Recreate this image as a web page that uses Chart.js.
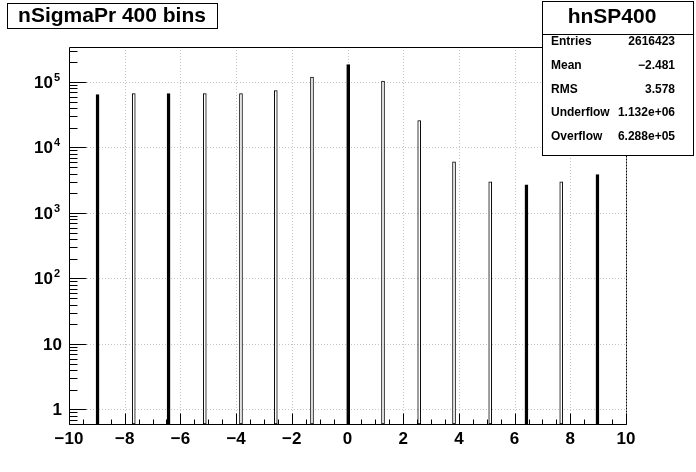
<!DOCTYPE html>
<html>
<head>
<meta charset="utf-8">
<script src="https://cdn.jsdelivr.net/npm/chart.js@4.4.1/dist/chart.umd.min.js"></script>
<style>
  body { margin: 0; background: #fff; }
  canvas { display: block; }
</style>
</head>
<body>
<canvas id="histCanvas" width="696" height="472"></canvas>
<script>
// hnSP400: 400 bins from -10 to 10, only the filled bins are listed (bin centres)
var binCenters = [-8.975, -7.675, -6.425, -5.125, -3.825, -2.575, -1.275, 0.025,
                  1.275, 2.575, 3.825, 5.125, 6.425, 7.675, 8.975];
var binCounts = [64000, 66300, 66300, 66300, 66300, 73700, 119000, 183600,
                 103500, 25700, 6030, 2990, 2690, 2990, 3860];

var yDecades = [1, 10, 100, 1000, 10000, 100000];
var yDecadeBase = ['1', '10', '10', '10', '10', '10'];
var yDecadeExp = ['', '', '2', '3', '4', '5'];

var histTitle = 'nSigmaPr 400 bins';
var statsTitle = 'hnSP400';
var statNames = ['Entries', 'Mean', 'RMS', 'Underflow', 'Overflow'];
var statValues = ['2616423', '\u22122.481', '3.578', '1.132e+06', '6.288e+05'];

var FONT = '"Liberation Sans", Arial, Helvetica, sans-serif';
// bars that come out as solid strokes in the original rendering
var solidBars = [0, 2, 7, 12, 14];

function line(ctx, x1, y1, x2, y2) {
    ctx.beginPath();
    ctx.moveTo(x1, y1);
    ctx.lineTo(x2, y2);
    ctx.stroke();
}

var rootStyle = {
    id: 'rootStyle',
    beforeDatasetsDraw: function(chart) {
        var ctx = chart.ctx, a = chart.chartArea, x = chart.scales.x, y = chart.scales.y;
        ctx.save();
        ctx.strokeStyle = '#c4c4c4';
        ctx.lineWidth = 1;
        ctx.setLineDash([1, 2]);
        for (var v = -8; v <= 8; v += 2) {
            var px = Math.round(x.getPixelForValue(v)) + 0.5;
            line(ctx, px, a.top, px, a.bottom);
        }
        yDecades.forEach(function(d) {
            var py = Math.round(y.getPixelForValue(d)) + 0.5;
            line(ctx, a.left, py, a.right, py);
        });
        ctx.restore();
    },
    afterDatasetsDraw: function(chart) {
        var ctx = chart.ctx, a = chart.chartArea, x = chart.scales.x, y = chart.scales.y;
        var L = Math.round(a.left) + 0.5, R = Math.round(a.right) + 0.5;
        var T = Math.round(a.top) + 0.5, B = Math.round(a.bottom) + 0.5;
        ctx.save();
        ctx.strokeStyle = '#000';
        ctx.lineWidth = 1;
        // inner ticks on x
        for (var i = -20; i <= 20; i++) {
            var v = i / 2;
            var px = Math.round(x.getPixelForValue(v)) + 0.5;
            var len = (i % 4 === 0) ? 11 : 5;
            line(ctx, px, B, px, B - len);
        }
        // inner ticks on y (log)
        var d = 0.1;
        while (d <= 1e6) {
            for (var m = 1; m <= 9; m++) {
                var val = m * d;
                if (val < y.min || val > y.max) continue;
                var py = Math.round(y.getPixelForValue(val)) + 0.5;
                line(ctx, L, py, L + (m === 1 ? 17 : 8), py);
            }
            d *= 10;
        }
        // frame
        line(ctx, L, T, L, B);
        line(ctx, L, B, R, B);
        line(ctx, L, T, R, T);
        ctx.setLineDash([2, 1]);
        line(ctx, R, T, R, B);
        ctx.restore();
    },
    afterDraw: function(chart) {
        var ctx = chart.ctx, y = chart.scales.y;
        ctx.save();
        ctx.fillStyle = '#000';
        // y labels 10^n
        yDecades.forEach(function(dv, i) {
            var py = y.getPixelForValue(dv);
            ctx.font = 'bold 17px ' + FONT;
            ctx.textBaseline = 'alphabetic';
            if (yDecadeExp[i]) {
                ctx.textAlign = 'right';
                ctx.fillText(yDecadeBase[i], 53, py + 6);
                ctx.font = 'bold 11px ' + FONT;
                ctx.textAlign = 'left';
                ctx.fillText(yDecadeExp[i], 54, py - 1);
            } else {
                ctx.textAlign = 'right';
                ctx.fillText(yDecadeBase[i], 62, py + 6);
            }
        });

        // title box
        ctx.fillStyle = '#fff';
        ctx.fillRect(7, 3, 210, 25);
        ctx.strokeStyle = '#000';
        ctx.lineWidth = 1;
        ctx.strokeRect(7.5, 3.5, 210, 25);
        ctx.fillStyle = '#000';
        ctx.font = 'bold 21px ' + FONT;
        ctx.textAlign = 'center';
        ctx.textBaseline = 'middle';
        ctx.fillText(histTitle, 112, 16);

        // stats box
        ctx.fillStyle = '#fff';
        ctx.fillRect(542, 1, 151, 154);
        ctx.strokeRect(542.5, 1.5, 151, 154);
        line(ctx, 542.5, 34.5, 693.5, 34.5);
        ctx.fillStyle = '#000';
        ctx.font = 'bold 21px ' + FONT;
        ctx.textAlign = 'center';
        ctx.fillText(statsTitle, 612, 17);
        ctx.font = 'bold 12px ' + FONT;
        statNames.forEach(function(n, i) {
            var ty = 42 + i * 23.7;
            ctx.textAlign = 'left';
            ctx.fillText(n, 551, ty);
            ctx.textAlign = 'right';
            ctx.fillText(statValues[i], 675, ty);
        });
        ctx.restore();
    }
};

var histData = binCenters.map(function(c, i) { return {x: c, y: binCounts[i]}; });

new Chart(document.getElementById('histCanvas'), {
    type: 'bar',
    data: {
        datasets: [{
            label: statsTitle,
            data: histData,
            backgroundColor: function(c) { return solidBars.indexOf(c.dataIndex) >= 0 ? '#000' : '#fff'; },
            borderColor: '#000',
            borderWidth: 1,
            borderSkipped: false,
            barThickness: 3
        }]
    },
    options: {
        responsive: false,
        animation: false,
        devicePixelRatio: 1,
        layout: { padding: { top: 47, right: 70, left: 0, bottom: 0 } },
        plugins: { legend: { display: false }, tooltip: { enabled: false } },
        scales: {
            x: {
                type: 'linear',
                min: -10,
                max: 10,
                offset: false,
                grid: { display: false, drawTicks: false, offset: false },
                border: { display: false },
                ticks: {
                    stepSize: 2,
                    autoSkip: false,
                    maxRotation: 0,
                    padding: 5,
                    color: '#000',
                    font: { family: FONT, size: 17, weight: 'bold' },
                    callback: function(v) { return String(v).replace('-', '\u2212'); }
                },
                afterFit: function(s) { s.height = 48; }
            },
            y: {
                type: 'logarithmic',
                min: 0.625,
                max: 342000,
                grid: { display: false },
                border: { display: false },
                ticks: { display: false },
                afterFit: function(s) { s.width = 69; }
            }
        }
    },
    plugins: [rootStyle]
});
</script>
</body>
</html>
